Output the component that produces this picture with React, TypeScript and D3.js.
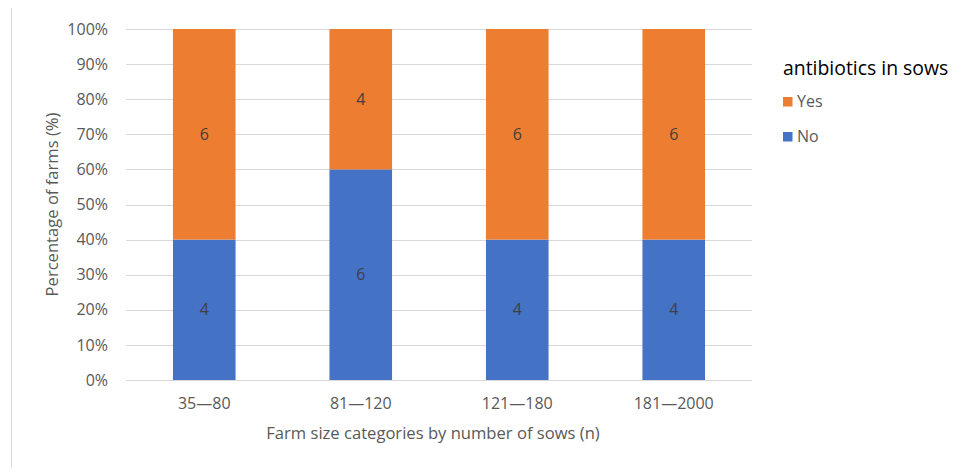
import React from "react";
import * as d3 from "d3";

// Farm size groups and number of farms per answer
const categories = ["35—80", "81—120", "121—180", "181—2000"];
const noCounts = [4, 6, 4, 4];
const yesCounts = [6, 4, 6, 6];
const seriesNames = ["No", "Yes"];
const seriesColors = ["#4472C4", "#ED7D31"];
const yTicks = [0, 0.1, 0.2, 0.3, 0.4, 0.5, 0.6, 0.7, 0.8, 0.9, 1];

const W = 963;
const H = 476;
const FONT = "'Open Sans', 'Noto Sans', sans-serif";
const FS = 16;

export default function App() {
  const plot = { left: 126, right: 752, top: 29, bottom: 380 };
  const x = d3
    .scaleBand<string>()
    .domain(categories)
    .range([plot.left, plot.right])
    .paddingInner(0.6)
    .paddingOuter(0.3);
  const y = d3.scaleLinear().domain([0, 1]).range([plot.bottom, plot.top]);
  const fmt = d3.format(".0%");

  const rows = categories.map((c, i) => {
    const total = noCounts[i] + yesCounts[i];
    return { c, counts: [noCounts[i], yesCounts[i]], total };
  });
  const stack = d3
    .stack<{ c: string; counts: number[]; total: number }, number>()
    .keys([0, 1])
    .value((d, k) => d.counts[k] / d.total);
  const layers = stack(rows);

  return (
    <div style={{ margin: -8 }}>
      <svg width={W} height={H} style={{ display: "block", fontFamily: FONT }}>
        <rect x={0} y={0} width={W} height={H} fill="#fff" />
        <rect x={11.5} y={5.5} width={949} height={475} fill="none" stroke="#d9d9d9" strokeWidth={1} />
        {yTicks.map((t) => (
          <g key={t}>
            <line x1={plot.left} x2={plot.right} y1={Math.round(y(t)) + 0.5} y2={Math.round(y(t)) + 0.5} stroke="#d9d9d9" strokeWidth={1} />
            <text x={108} y={y(t)} dy="0.35em" textAnchor="end" fontSize={FS} fill="#595959">
              {fmt(t)}
            </text>
          </g>
        ))}
        {layers.map((layer, si) =>
          layer.map((seg, i) => (
            <g key={`${si}-${i}`}>
              <rect
                x={x(categories[i])!}
                width={x.bandwidth()}
                y={y(seg[1])}
                height={y(seg[0]) - y(seg[1])}
                fill={seriesColors[si]}
              />
              <text
                x={x(categories[i])! + x.bandwidth() / 2}
                y={(y(seg[0]) + y(seg[1])) / 2}
                dy="0.35em"
                textAnchor="middle"
                fontSize={FS}
                fill="#404040"
              >
                {rows[i].counts[si]}
              </text>
            </g>
          ))
        )}
        {categories.map((c) => (
          <text key={c} x={x(c)! + x.bandwidth() / 2} y={403} dy="0.35em" textAnchor="middle" fontSize={FS} fill="#595959">
            {c}
          </text>
        ))}
        <text x={433} y={433} dy="0.35em" textAnchor="middle" fontSize={16.6} fill="#595959">
          Farm size categories by number of sows (n)
        </text>
        <text
          transform={`translate(52,${(plot.top + plot.bottom) / 2}) rotate(-90)`}
          dy="0.35em"
          textAnchor="middle"
          fontSize={16.6}
          fill="#595959"
        >
          Percentage of farms (%)
        </text>
        <text x={783} y={68} dy="0.35em" fontSize={19.4} fill="#000">
          antibiotics in sows
        </text>
        {[1, 0].map((si, j) => (
          <g key={si}>
            <rect x={783} y={97 + j * 35} width={9.5} height={9.5} fill={seriesColors[si]} />
            <text x={797} y={101.5 + j * 35} dy="0.35em" fontSize={FS} fill="#595959">
              {seriesNames[si]}
            </text>
          </g>
        ))}
      </svg>
    </div>
  );
}
